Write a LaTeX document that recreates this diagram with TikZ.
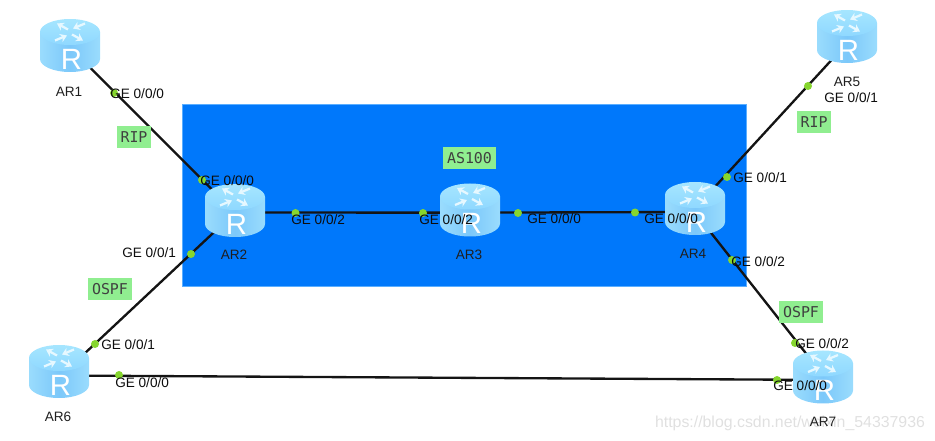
\documentclass[tikz,border=0pt]{standalone}
\usepackage{fontspec}
\setmainfont{Liberation Sans}
\newfontfamily\tagfont{DejaVu Sans Mono}
\usetikzlibrary{arrows.meta}
\definecolor{rArea}{HTML}{0078FB}
\definecolor{rEdge}{HTML}{5AAEFF}
\definecolor{rTag}{HTML}{90EE90}
\definecolor{rDot}{HTML}{86D62E}
\definecolor{rTop}{HTML}{A6E6FF}
\definecolor{rTopb}{HTML}{8FD8FF}
\definecolor{rSide}{HTML}{7CC8FA}
\definecolor{rSidel}{HTML}{9ADCFD}
\definecolor{rMark}{HTML}{E0E0E0}
\definecolor{rLid}{HTML}{E6F8FF}
\tikzset{
  routerbox/.style={minimum width=45pt, minimum height=39.75pt, inner sep=0pt},
  link/.style={line width=1.75pt, black!92},
  portdot/.style={circle, fill=rDot, minimum size=6pt, inner sep=0pt},
  portlabel/.style={anchor=west, inner sep=0pt, font=\fontsize{10.2}{12}\selectfont, black!95},
  namelabel/.style={inner sep=0pt, font=\fontsize{10.2}{12}\selectfont, black!88},
  tag/.style={fill=rTag, minimum height=16pt, inner sep=0pt, text=black!75,
              font=\tagfont\fontsize{11.2}{13}\selectfont},
  routerpic/.pic={
    \shade[left color=rSidel, right color=rSidel, middle color=rSide]
      (-30,-13.5) -- (-30,13.5) arc[start angle=180, end angle=360, x radius=22.5pt, y radius=9.75pt]
      -- (30,-13.5) -- cycle;
    \shade[top color=rTop, bottom color=rTopb] (0,-13.5) ellipse[x radius=22.5pt, y radius=9.75pt];
    % four arrows on the lid
    \foreach \xa/\ya/\xb/\yb in {-2/-16/-13/-22, 15/-22/3/-17, 2/-11/13/-5, -15/-5/-3/-10} {
      \draw[rLid, line width=1.7pt, -{Stealth[length=5pt, width=6.5pt]}] (\xa,\ya) -- (\xb,\yb);
    }
    \node[white, inner sep=0pt, font=\fontsize{22}{22}\selectfont] (-R) at (1.5,13.5) {R};
  },
}
\begin{document}
\begin{tikzpicture}[x=0.75pt, y=-0.75pt]
  \useasboundingbox (0,0) rectangle (935,441);
  \draw[draw=rEdge, fill=rArea, line width=0.75pt] (182,105) rectangle (746,287);
  % watermark
  \node[font=\fontsize{11.9}{14}\selectfont, text=rMark, inner sep=0pt] (mark) at (790,423) {https://blog.csdn.net/weixin\_54337936};
  % routers
  \foreach \nm/\x/\y in {AR1/70/45.5, AR2/235/210.5, AR3/470/210, AR4/695/208.5,
                         AR5/847/36.5, AR6/59/371.5, AR7/823/377} {
    \node[routerbox] (\nm) at (\x,\y) {};
  }
  % links
  \draw[link] ([yshift=-1.5pt]AR1.center) -- ([yshift=-1.5pt]AR2.center);
  \draw[link] ([yshift=-1.5pt]AR2.center) -- ([yshift=-4.5pt]AR6.center);
  \draw[link] ([yshift=-1.5pt]AR2.center) -- ([yshift=-2pt]AR3.center);
  \draw[link] ([yshift=-2pt]AR3.center) -- ([yshift=-2.6pt]AR4.center);
  \draw[link] (AR4.center) -- ([yshift=-5pt]AR5.center);
  \draw[link] ([yshift=-3pt]AR4.center) -- ([yshift=1.5pt]AR7.center);
  \draw[link] ([yshift=-3pt]AR6.center) -- ([yshift=-2.2pt]AR7.center);
  \foreach \nm in {AR1, AR2, AR3, AR4, AR5, AR6, AR7} {
    \pic (\nm) at (\nm) {routerpic};
  }
  % port dots
  \foreach \nm/\x/\y in {d1/114/93, d2/202/180, d3/295.5/213, d4/191/254, d5/95/344, d6/119/375,
                         d7/423/213, d8/518/213, d9/635/212.5, d10/727/177, d11/732/260,
                         d12/808/86, d13/795/343, d14/777/380} {
    \node[portdot] (\nm) at (\x,\y) {};
  }
  % port labels
  \foreach \nm/\x/\y/\p in {p1/110/94/0, p2/200/181/0, p3/291/220/2, p4/122/253/1, p5/101/345/1,
                            p6/115/383/0, p7/419/220/2, p8/527/219/0, p9/644/219/0, p10/733/178/1,
                            p11/731/262/2, p12/824/98/1, p13/795/344/2, p14/773/386/0} {
    \node[portlabel] (\nm) at (\x,\y) {GE 0/0/\p};
  }
  % router names
  \foreach \nm/\x/\y/\lab in {n1/69/92/AR1, n2/234/255/AR2, n3/469/255/AR3, n4/693/253.5/AR4,
                              n5/847/82/AR5, n6/58/417/AR6, n7/823/422/AR7} {
    \node[namelabel] (\nm) at (\x,\y) {\lab};
  }
  % green tags
  \node[tag, minimum width=25.5pt] (rip1) at (134,137) {RIP};
  \node[tag, minimum width=25.5pt] (rip2) at (814,122) {RIP};
  \node[tag, minimum width=33pt] (ospf1) at (110,289) {OSPF};
  \node[tag, minimum width=33pt] (ospf2) at (801,312) {OSPF};
  \node[tag, minimum width=39.75pt] (as) at (469.5,158) {AS100};
\end{tikzpicture}
\end{document}
